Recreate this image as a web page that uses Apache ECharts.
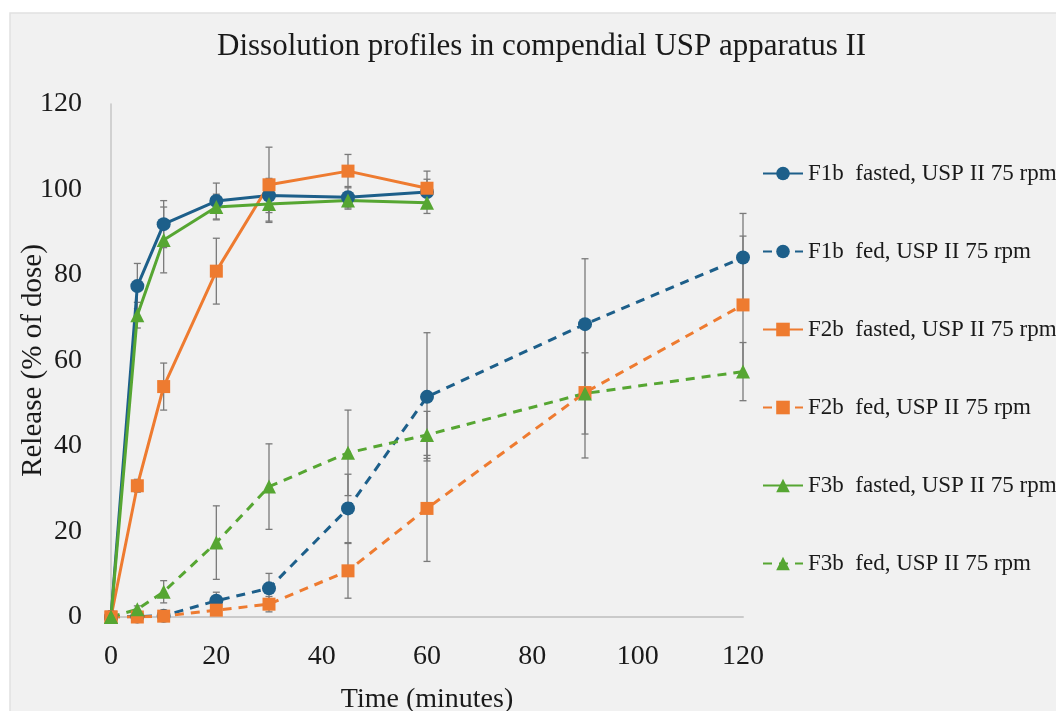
<!DOCTYPE html>
<html>
	<head>
		<meta charset="utf-8">
		<title>Dissolution profiles in compendial USP apparatus II</title>
		<script src="https://cdn.jsdelivr.net/npm/echarts@6/dist/echarts.min.js"></script>
		<style>
			html, body { margin: 0; padding: 0; background: #ffffff; }
		</style>
	</head>
	<body>
		<div id="main" style="width: 1056px;height:711px;"></div>
		<script type="text/javascript">
			// sampling times (minutes)
			var timesFasted = [0, 5, 10, 20, 30, 45, 60];
			var timesFed = [0, 5, 10, 20, 30, 45, 60, 90, 120];

			// mean release (% of dose) and SD
			var f1bFasted = [0, 77.4, 91.9, 97.3, 98.6, 98.2, 99.4];
			var f1bFastedSd = [0, 5.3, 5.5, 4.2, 4.0, 2.5, 3.0];
			var f1bFed = [0, 0.1, 0.3, 3.8, 6.7, 25.4, 51.5, 68.5, 84.1];
			var f1bFedSd = [0, 0.3, 0.5, 2.0, 3.5, 8.0, 15.0, 15.3, 10.3];

			var f2bFasted = [0, 30.7, 53.9, 80.9, 101.1, 104.3, 100.3];
			var f2bFastedSd = [0, 1.5, 5.5, 7.7, 8.8, 3.9, 4.0];
			var f2bFed = [0, 0, 0.2, 1.6, 3.0, 10.8, 25.4, 52.5, 73.0];
			var f2bFedSd = [0, 0.3, 0.5, 0.5, 1.8, 6.4, 12.4, 15.3, 16.1];

			var f3bFasted = [0, 70.6, 88.2, 95.9, 96.6, 97.4, 96.9];
			var f3bFastedSd = [0, 3.0, 7.7, 3.0, 4.0, 2.0, 2.5];
			var f3bFed = [0, 1.8, 5.9, 17.4, 30.5, 38.4, 42.6, 52.3, 57.4];
			var f3bFedSd = [0, 0.8, 2.6, 8.6, 10.0, 10.0, 5.5, 9.5, 6.8];

			var seriesNames = [
				'F1b  fasted, USP II 75 rpm',
				'F1b  fed, USP II 75 rpm',
				'F2b  fasted, USP II 75 rpm',
				'F2b  fed, USP II 75 rpm',
				'F3b  fasted, USP II 75 rpm',
				'F3b  fed, USP II 75 rpm'
			];

			var blue = '#1d5f8a', orange = '#ee7b30', green = '#56a632';
			var font = '"Liberation Serif", "Times New Roman", serif';

			function pairs(t, v) {
				return t.map(function (x, i) { return [x, v[i]]; });
			}
			function bars(t, v, sd) {
				var out = [];
				t.forEach(function (x, i) {
					if (sd[i] > 0) out.push([x, v[i] - sd[i], v[i] + sd[i]]);
				});
				return out;
			}

			// error bar with caps, positioned through the axes
			function renderErr(params, api) {
				var x = api.value(0);
				var lo = api.coord([x, api.value(1)]);
				var hi = api.coord([x, api.value(2)]);
				var w = 3.5;
				var st = { stroke: '#7a7a7a', lineWidth: 1.3 };
				return {
					type: 'group',
					children: [
						{ type: 'line', shape: { x1: hi[0], y1: hi[1], x2: lo[0], y2: lo[1] }, style: st },
						{ type: 'line', shape: { x1: hi[0] - w, y1: hi[1], x2: hi[0] + w, y2: hi[1] }, style: st },
						{ type: 'line', shape: { x1: lo[0] - w, y1: lo[1], x2: lo[0] + w, y2: lo[1] }, style: st }
					]
				};
			}

			function errSeries(data) {
				return {
					type: 'custom',
					renderItem: renderErr,
					data: data,
					encode: { x: 0, y: [1, 2] },
					z: 1,
					silent: true
				};
			}

			function lineSeries(name, data, color, symbol, size, dashed) {
				return {
					type: 'line',
					name: name,
					data: data,
					symbol: symbol,
					symbolSize: size,
					showAllSymbol: true,
					itemStyle: { color: color },
					lineStyle: { color: color, width: 3, type: dashed ? [9, 7] : 'solid' },
					z: 3
				};
			}

			var myChart = echarts.init(document.getElementById('main'));
			var option = {
				backgroundColor: '#ffffff',
				animation: false,
				graphic: [{
					type: 'rect',
					shape: { x: 10, y: 13, width: 1050, height: 702 },
					style: { fill: '#f1f1f1', stroke: '#e1e1e1', lineWidth: 1.5 },
					z: -10
				}],
				title: {
					text: 'Dissolution profiles in compendial USP apparatus II',
					left: 212,
					top: 26,
					textStyle: { fontFamily: font, fontSize: 31, fontWeight: 'normal', color: '#1a1a1a' }
				},
				legend: {
					orient: 'vertical',
					left: 762,
					top: 162,
					padding: 0,
					itemWidth: 40,
					itemHeight: 17,
					itemGap: 55,
					data: seriesNames,
					textStyle: { fontFamily: font, fontSize: 23, color: '#1a1a1a' }
				},
				grid: { left: 111, top: 104, right: 313, bottom: 94, outerBoundsMode: 'none' },
				xAxis: {
					type: 'value',
					min: 0,
					max: 120,
					interval: 20,
					name: 'Time (minutes)',
					nameLocation: 'middle',
					nameGap: 69,
					nameMoveOverlap: false,
					nameTextStyle: { fontFamily: font, fontSize: 28, color: '#1a1a1a' },
					axisLine: { lineStyle: { color: '#cacaca', width: 2 } },
					axisTick: { show: false },
					splitLine: { show: false },
					axisLabel: { fontFamily: font, fontSize: 28, color: '#1a1a1a', margin: 26 }
				},
				yAxis: {
					type: 'value',
					min: 0,
					max: 120,
					interval: 20,
					name: 'Release (% of dose)',
					nameLocation: 'middle',
					nameRotate: 90,
					nameGap: 63,
					nameMoveOverlap: false,
					nameTextStyle: { fontFamily: font, fontSize: 29, color: '#1a1a1a' },
					axisLine: { show: true, lineStyle: { color: '#c6c6c6', width: 1.5 } },
					axisTick: { show: false },
					splitLine: { show: false },
					axisLabel: { fontFamily: font, fontSize: 28, color: '#1a1a1a', margin: 29 }
				},
				series: [
					errSeries(bars(timesFasted, f1bFasted, f1bFastedSd)),
					errSeries(bars(timesFed, f1bFed, f1bFedSd)),
					errSeries(bars(timesFasted, f2bFasted, f2bFastedSd)),
					errSeries(bars(timesFed, f2bFed, f2bFedSd)),
					errSeries(bars(timesFasted, f3bFasted, f3bFastedSd)),
					errSeries(bars(timesFed, f3bFed, f3bFedSd)),
					lineSeries(seriesNames[0], pairs(timesFasted, f1bFasted), blue, 'circle', 14, false),
					lineSeries(seriesNames[1], pairs(timesFed, f1bFed), blue, 'circle', 14, true),
					lineSeries(seriesNames[2], pairs(timesFasted, f2bFasted), orange, 'rect', 13, false),
					lineSeries(seriesNames[3], pairs(timesFed, f2bFed), orange, 'rect', 13, true),
					lineSeries(seriesNames[4], pairs(timesFasted, f3bFasted), green, 'triangle', 14, false),
					lineSeries(seriesNames[5], pairs(timesFed, f3bFed), green, 'triangle', 14, true)
				]
			};
			myChart.setOption(option);
		</script>
	</body>
</html>
